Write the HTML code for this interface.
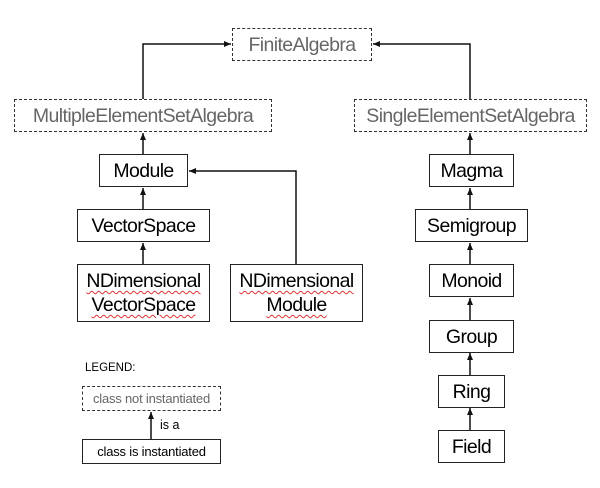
<!DOCTYPE html>
<html><head><meta charset="utf-8"><style>
html,body{margin:0;padding:0;background:#fff;}
body{width:600px;height:488px;position:relative;overflow:hidden;font-family:"Liberation Sans",sans-serif;}
.b{position:absolute;box-sizing:border-box;border:1.5px solid #222;display:flex;align-items:center;justify-content:center;text-align:center;font-size:19.5px;color:#000;line-height:24px;letter-spacing:-0.6px;}
.d{border:1.5px dashed #333;color:#666;}
.w{text-decoration:underline wavy #d33;text-decoration-thickness:1px;text-underline-offset:3px;}
.t{position:absolute;font-size:11px;color:#000;}
</style></head><body>
<svg width="600" height="488" style="position:absolute;left:0;top:0">
<defs><marker id="a" markerWidth="8" markerHeight="8" refX="7" refY="4" orient="auto" markerUnits="userSpaceOnUse"><path d="M0,1 L7,4 L0,7 z" fill="#111"/></marker></defs>
<g stroke="#111" stroke-width="1.5" fill="none">
<polyline points="143,99 143,44 231,44" marker-end="url(#a)"/>
<polyline points="470,99 470,44 373,44" marker-end="url(#a)"/>
<line x1="143" y1="154" x2="143" y2="133" marker-end="url(#a)"/>
<line x1="143" y1="209" x2="143" y2="188" marker-end="url(#a)"/>
<line x1="143" y1="264" x2="143" y2="243" marker-end="url(#a)"/>
<polyline points="296,264 296,171 189,171" marker-end="url(#a)"/>
<line x1="470" y1="154" x2="470" y2="133" marker-end="url(#a)"/>
<line x1="470" y1="209" x2="470" y2="188" marker-end="url(#a)"/>
<line x1="470" y1="264" x2="470" y2="243" marker-end="url(#a)"/>
<line x1="470" y1="320" x2="470" y2="298" marker-end="url(#a)"/>
<line x1="470" y1="375" x2="470" y2="353" marker-end="url(#a)"/>
<line x1="470" y1="430" x2="470" y2="408" marker-end="url(#a)"/>
<line x1="151" y1="439" x2="151" y2="412" marker-end="url(#a)"/>
</g></svg>
<div class="b d" style="left:232px;top:28px;width:140px;height:33px">FiniteAlgebra</div>
<div class="b d" style="left:14px;top:99px;width:258px;height:33px">MultipleElementSetAlgebra</div>
<div class="b d" style="left:354px;top:99px;width:233px;height:33px">SingleElementSetAlgebra</div>
<div class="b" style="left:99px;top:154px;width:89px;height:33px">Module</div>
<div class="b" style="left:77px;top:209px;width:133px;height:33px">VectorSpace</div>
<div class="b" style="left:77px;top:264px;width:133px;height:58px"><div><span class="w">NDimensional</span><br><span class="w">VectorSpace</span></div></div>
<div class="b" style="left:230px;top:264px;width:133px;height:58px"><div><span class="w">NDimensional</span><br><span class="w">Module</span></div></div>
<div class="b" style="left:429px;top:154px;width:85px;height:33px">Magma</div>
<div class="b" style="left:415px;top:209px;width:113px;height:33px">Semigroup</div>
<div class="b" style="left:429px;top:264px;width:85px;height:33px">Monoid</div>
<div class="b" style="left:429px;top:320px;width:85px;height:33px">Group</div>
<div class="b" style="left:438px;top:375px;width:67px;height:33px">Ring</div>
<div class="b" style="left:438px;top:430px;width:67px;height:33px">Field</div>
<div class="t" style="left:85px;top:362px;font-size:11.5px">LEGEND:</div>
<div class="b d" style="left:82px;top:386px;width:139px;height:25px;font-size:13px;letter-spacing:-0.2px">class not instantiated</div>
<div class="t" style="left:160px;top:418px;font-size:12.5px">is a</div>
<div class="b" style="left:82px;top:439px;width:139px;height:25px;font-size:13px;letter-spacing:-0.2px">class is instantiated</div>
</body></html>
